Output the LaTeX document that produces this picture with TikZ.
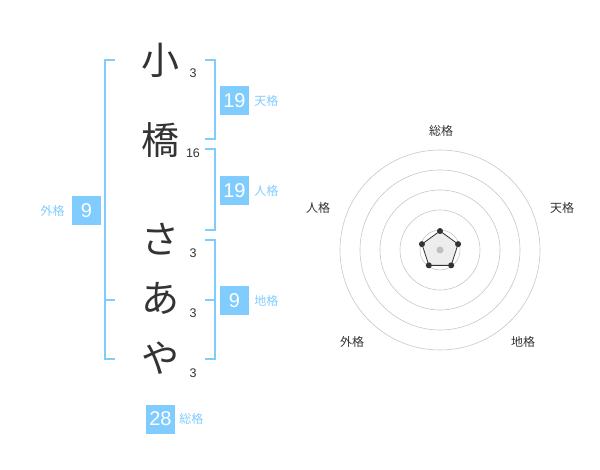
\documentclass[tikz,border=0pt]{standalone}
\usepackage{fontspec}
\setmainfont{Liberation Sans}
\newfontfamily\jpfont{Noto Sans CJK JP}
\usetikzlibrary{positioning,calc}
\definecolor{kblue}{RGB}{128,204,255}
\definecolor{kink}{RGB}{51,51,51}

\begin{document}
\begin{tikzpicture}[x=1pt, y=-1pt,
  chr/.style={font=\jpfont\fontsize{38}{38}\selectfont, text=kink, inner sep=0pt},
  cnt/.style={font=\fontsize{12.5}{13}\selectfont, text=kink, inner sep=0pt},
  kbox/.style={fill=kblue, text=white, minimum size=29pt, inner sep=0pt,
               font=\fontsize{20}{20}\selectfont},
  klab/.style={font=\jpfont\fontsize{12}{12}\selectfont, text=kblue, inner sep=0pt},
  brk/.style={draw=kblue, line width=2pt},
  ring/.style={draw=black!22, line width=0.6pt},
  axlab/.style={font=\jpfont\fontsize{12}{12}\selectfont, text=kink, inner sep=0pt},
  dot/.style={circle, fill=kink, inner sep=0pt, minimum size=6pt}
]
\useasboundingbox (0,0) rectangle (600,470);

% name, one character per row
\node[chr] (c1) at (160,60)  {小};
\node[chr] (c2) at (160,140) {橋};
\node[chr] (c3) at (160,239) {さ};
\node[chr] (c4) at (160,298) {あ};
\node[chr] (c5) at (160,358) {や};

% stroke counts
\node[cnt] (n1) at (193,73)  {3};
\node[cnt] (n2) at (193,153) {16};
\node[cnt] (n3) at (193,253) {3};
\node[cnt] (n4) at (193,313) {3};
\node[cnt] (n5) at (193,373) {3};

% brackets
\draw[brk] (115,60) -- (105,60) -- (105,359) -- (115,359);
\draw[brk] (105,300) -- (115,300);
\draw[brk] (205,60) -- (215,60) -- (215,139) -- (205,139);
\draw[brk] (205,149) -- (215,149) -- (215,230) -- (205,230);
\draw[brk] (205,240) -- (215,240) -- (215,359) -- (205,359);
\draw[brk] (215,300) -- (205,300);

% the five totals
\node[kbox] (ten) at (234.5,100.5) {19};
\node[klab, right=5pt of ten] (tenl) {天格};
\node[kbox] (jin) at (234.5,190.5) {19};
\node[klab, right=5pt of jin] (jinl) {人格};
\node[kbox] (chi) at (234.5,300.5) {9};
\node[klab, right=5pt of chi] (chil) {地格};
\node[kbox] (gai) at (86.5,211) {9};
\node[klab, left=7pt of gai] (gail) {外格};
\node[kbox] (sou) at (160.5,419) {28};
\node[klab, right=4pt of sou] (soul) {総格};

% radar chart
\coordinate (rc) at (440,250);
\foreach \r in {20,40,60,80,100}
  \draw[ring] (rc) circle[radius=\r];
\node[axlab] (asou) at (441,131) {総格};
\node[axlab] (aten) at (562,208) {天格};
\node[axlab] (ajin) at (318,208) {人格};
\node[axlab] (agai) at (352,342) {外格};
\node[axlab] (achi) at (523,342) {地格};
\foreach \a [count=\i] in {270,342,54,126,198}
  \coordinate (p\i) at ($(rc)+(\a:19)$);
\draw[fill=black!7, draw=kink, line width=0.8pt]
  (p1) -- (p2) -- (p3) -- (p4) -- (p5) -- cycle;
\fill[black!25] (rc) circle[radius=3.5];
\foreach \i in {1,...,5}
  \node[dot] at (p\i) {};
\end{tikzpicture}
\end{document}
